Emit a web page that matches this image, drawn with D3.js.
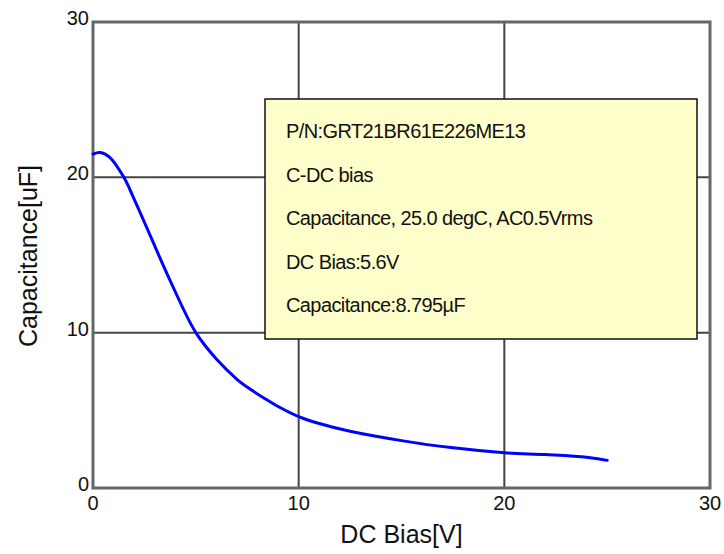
<!DOCTYPE html>
<html>
<head>
<meta charset="utf-8">
<title>C-DC bias</title>
<script src="https://d3js.org/d3.v7.min.js"></script>
<style>
    body {
        margin: 0;
        background: #fff;
    }
    text {
        font-family: "Liberation Sans", Arial, sans-serif;
        fill: #111;
    }
</style>
</head>
<body>
<script>
    // DC bias [V] vs capacitance [uF]
    const bias = [0, 0.35, 0.8, 1.5, 2.0, 2.8, 3.7, 5.0, 6.0, 7.0, 7.6, 8.3, 9.0, 10, 11, 12.5, 15, 17.4, 20, 22, 24, 25];
    const capacitance = [21.5, 21.6, 21.3, 20.0, 18.6, 16.2, 13.5, 10.0, 8.3, 7.0, 6.4, 5.8, 5.25, 4.6, 4.15, 3.65, 3.05, 2.6, 2.27, 2.15, 1.98, 1.78];
    const xTicks = [0, 10, 20, 30];
    const yTicks = [0, 10, 20, 30];
    const infoLines = [
        "P/N:GRT21BR61E226ME13",
        "C-DC bias",
        "Capacitance, 25.0 degC, AC0.5Vrms",
        "DC Bias:5.6V",
        "Capacitance:8.795\u00b5F"
    ];

    const width = 724, height = 554;
    const margin = {top: 22, right: 14, bottom: 66, left: 93};

    const svg = d3.select("body").append("svg")
        .attr("width", width)
        .attr("height", height);

    const x = d3.scaleLinear().domain([0, 30]).range([margin.left, width - margin.right]);
    const y = d3.scaleLinear().domain([0, 30]).range([height - margin.bottom, margin.top]);

    // grid
    svg.append("g")
        .selectAll("line")
        .data(xTicks.slice(1, -1))
        .join("line")
        .attr("x1", function(d) { return x(d); })
        .attr("x2", function(d) { return x(d); })
        .attr("y1", y(0))
        .attr("y2", y(30))
        .attr("stroke", "#444")
        .attr("stroke-width", 2);

    svg.append("g")
        .selectAll("line")
        .data(yTicks.slice(1, -1))
        .join("line")
        .attr("y1", function(d) { return y(d); })
        .attr("y2", function(d) { return y(d); })
        .attr("x1", x(0))
        .attr("x2", x(30))
        .attr("stroke", "#444")
        .attr("stroke-width", 2);

    // frame
    svg.append("rect")
        .attr("x", x(0))
        .attr("y", y(30))
        .attr("width", x(30) - x(0))
        .attr("height", y(0) - y(30))
        .attr("fill", "none")
        .attr("stroke", "#666")
        .attr("stroke-width", 3);

    // tick labels
    svg.append("g")
        .selectAll("text")
        .data(xTicks)
        .join("text")
        .attr("x", function(d) { return x(d); })
        .attr("y", y(0) + 22)
        .attr("text-anchor", "middle")
        .style("font-size", "20px")
        .text(function(d) { return d; });

    svg.append("g")
        .selectAll("text")
        .data(yTicks)
        .join("text")
        .attr("x", x(0) - 4)
        .attr("y", function(d) { return y(d) + 3; })
        .attr("text-anchor", "end")
        .style("font-size", "20px")
        .text(function(d) { return d; });

    // axis titles
    svg.append("text")
        .attr("x", (x(0) + x(30)) / 2)
        .attr("y", 543)
        .attr("text-anchor", "middle")
        .style("font-size", "25px")
        .text("DC Bias[V]");

    svg.append("text")
        .attr("transform", "translate(37," + 256 + ") rotate(-90)")
        .attr("text-anchor", "middle")
        .style("font-size", "25px")
        .text("Capacitance[uF]");

    // curve
    const line = d3.line()
        .x(function(d, i) { return x(bias[i]); })
        .y(function(d) { return y(d); })
        .curve(d3.curveCatmullRom.alpha(0.5));

    svg.append("path")
        .datum(capacitance)
        .attr("d", line)
        .attr("fill", "none")
        .attr("stroke", "#0000ff")
        .attr("stroke-width", 3)
        .attr("stroke-linecap", "round");

    // info box
    const box = svg.append("g").attr("transform", "translate(265,99)");
    box.append("rect")
        .attr("width", 432)
        .attr("height", 240)
        .attr("fill", "#ffffcc")
        .attr("stroke", "#111")
        .attr("stroke-width", 1.5);

    box.selectAll("text")
        .data(infoLines)
        .join("text")
        .attr("x", 21)
        .attr("y", function(d, i) { return 39 + i * 43.5; })
        .style("font-size", "20px")
        .style("letter-spacing", "-0.6px")
        .text(function(d) { return d; });
</script>
</body>
</html>
